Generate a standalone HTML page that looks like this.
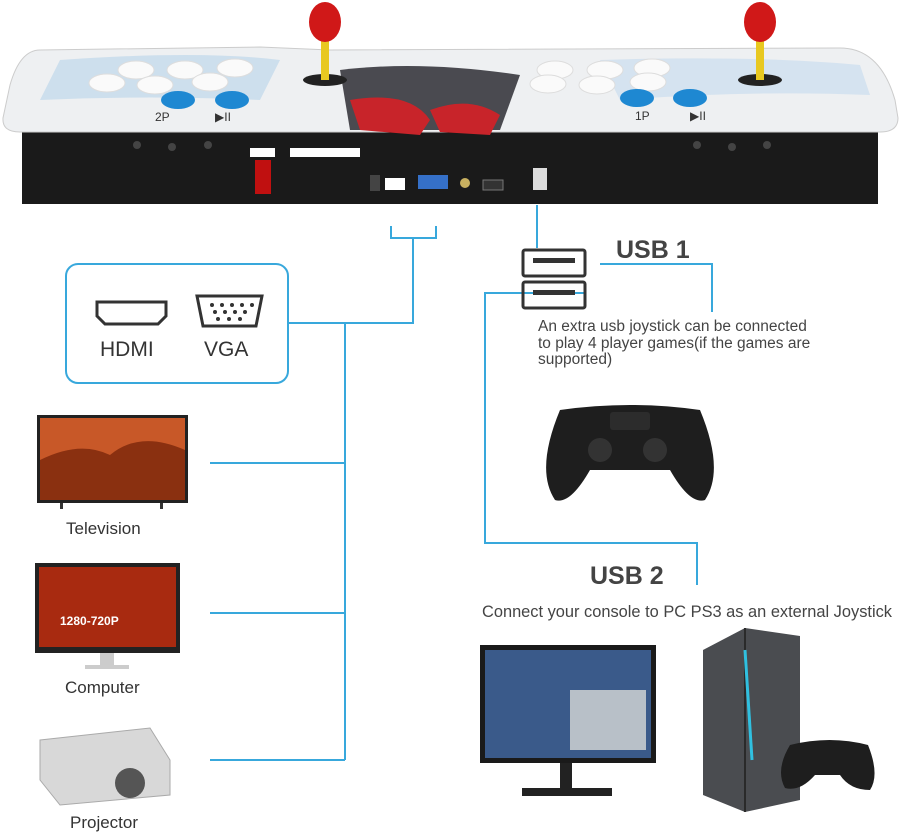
<!DOCTYPE html>
<html><head><meta charset="utf-8"><style>
html,body{margin:0;padding:0;background:#fff;}
svg{display:block}
text{font-family:"Liberation Sans",sans-serif;}
</style></head><body>
<svg width="900" height="834" viewBox="0 0 900 834" xmlns="http://www.w3.org/2000/svg">
<rect x="22" y="118" width="856" height="86" fill="#1a1a1a"/>
<path d="M40 50 L260 47 L330 50 L840 48 Q880 48 895 100 L898 118 Q898 132 880 132 L20 132 Q2 132 3 118 L10 85 Q20 50 40 50Z" fill="#eef0f2" stroke="#ccc"/>
<path d="M60 60 Q200 50 280 60 L260 100 Q150 95 40 100Z" fill="#b8d4ea" opacity="0.6"/>
<path d="M600 60 Q750 55 860 65 L870 95 Q750 90 620 100Z" fill="#c5dbee" opacity="0.6"/>
<path d="M340 70 Q420 60 520 75 L500 130 L350 130Z" fill="#4a4a50"/>
<path d="M350 100 Q410 90 430 120 L420 135 L360 130Z" fill="#c8242a"/>
<path d="M430 110 Q470 95 500 115 L490 135 L440 132Z" fill="#c8242a"/>
<g fill="#fafafa" stroke="#ddd">
<ellipse cx="107" cy="83" rx="18" ry="9"/><ellipse cx="136" cy="70" rx="18" ry="9"/><ellipse cx="185" cy="70" rx="18" ry="9"/><ellipse cx="235" cy="68" rx="18" ry="9"/>
<ellipse cx="155" cy="85" rx="18" ry="9"/><ellipse cx="210" cy="82" rx="18" ry="9"/>
<ellipse cx="555" cy="70" rx="18" ry="9"/><ellipse cx="605" cy="70" rx="18" ry="9"/><ellipse cx="652" cy="68" rx="18" ry="9"/>
<ellipse cx="548" cy="84" rx="18" ry="9"/><ellipse cx="597" cy="85" rx="18" ry="9"/><ellipse cx="648" cy="82" rx="18" ry="9"/>
</g>
<g fill="#1e88d2"><ellipse cx="178" cy="100" rx="17" ry="9"/><ellipse cx="232" cy="100" rx="17" ry="9"/><ellipse cx="637" cy="98" rx="17" ry="9"/><ellipse cx="690" cy="98" rx="17" ry="9"/></g>
<text x="155" y="121" font-size="12" fill="#333">2P</text><text x="215" y="121" font-size="12" fill="#333">▶II</text>
<text x="635" y="120" font-size="12" fill="#333">1P</text><text x="690" y="120" font-size="12" fill="#333">▶II</text>
<ellipse cx="325" cy="80" rx="22" ry="6" fill="#222"/><rect x="321" y="30" width="8" height="50" fill="#e8c820"/><ellipse cx="325" cy="22" rx="16" ry="20" fill="#d01818"/>
<ellipse cx="760" cy="80" rx="22" ry="6" fill="#222"/><rect x="756" y="30" width="8" height="50" fill="#e8c820"/><ellipse cx="760" cy="22" rx="16" ry="20" fill="#d01818"/>
<g fill="#444"><circle cx="137" cy="145" r="4"/><circle cx="172" cy="147" r="4"/><circle cx="208" cy="145" r="4"/><circle cx="697" cy="145" r="4"/><circle cx="732" cy="147" r="4"/><circle cx="767" cy="145" r="4"/></g>
<rect x="255" y="160" width="16" height="34" fill="#c01010"/>
<rect x="250" y="148" width="25" height="9" fill="#fff"/>
<rect x="290" y="148" width="70" height="9" fill="#fff"/>
<rect x="385" y="178" width="20" height="12" fill="#fff"/><rect x="418" y="175" width="30" height="14" fill="#3570c8"/>
<circle cx="465" cy="183" r="5" fill="#c8b060"/><rect x="483" y="180" width="20" height="10" fill="#333" stroke="#777"/>
<rect x="533" y="168" width="14" height="22" fill="#ddd"/><rect x="370" y="175" width="10" height="16" fill="#444"/>
<g stroke="#38a8dc" stroke-width="2" fill="none">
<path d="M391 226 V238 H436 V226"/><path d="M413 238 V323 H288"/>
<path d="M345 323 V760 M210 463 H345 M210 613 H345 M210 760 H345"/>
<rect x="66" y="264" width="222" height="119" rx="12"/>
<path d="M537 205 V248"/>
<path d="M600 264 H712 V312"/>
<path d="M585 293 H485 V543 H697 V585"/>
</g>
<path d="M97 302 H166 V316 L158 324 H105 L97 316Z" fill="none" stroke="#333" stroke-width="3"/>
<path d="M197 296 H262 L256 326 H203Z" fill="none" stroke="#333" stroke-width="3"/>
<g fill="#333"><circle cx="212" cy="305" r="2"/><circle cx="222" cy="305" r="2"/><circle cx="232" cy="305" r="2"/><circle cx="242" cy="305" r="2"/><circle cx="252" cy="305" r="2"/><circle cx="215" cy="312" r="2"/><circle cx="225" cy="312" r="2"/><circle cx="235" cy="312" r="2"/><circle cx="245" cy="312" r="2"/><circle cx="218" cy="319" r="2"/><circle cx="229" cy="319" r="2"/><circle cx="240" cy="319" r="2"/></g>
<text x="100" y="356" font-size="21" fill="#333">HDMI</text><text x="204" y="356" font-size="21" fill="#333">VGA</text>
<rect x="523" y="250" width="62" height="26" rx="2" fill="none" stroke="#333" stroke-width="3"/><rect x="533" y="258" width="42" height="5" fill="#333"/>
<rect x="523" y="282" width="62" height="26" rx="2" fill="none" stroke="#333" stroke-width="3"/><rect x="533" y="290" width="42" height="5" fill="#333"/>
<text x="616" y="258" font-size="25" font-weight="bold" fill="#444">USB 1</text>
<text x="538" y="331" font-size="15.5" fill="#444">An extra usb joystick can be connected</text>
<text x="538" y="348" font-size="15.5" fill="#444">to play 4 player games(if the games are</text>
<text x="538" y="364" font-size="15.5" fill="#444">supported)</text>
<text x="590" y="584" font-size="25" font-weight="bold" fill="#444">USB 2</text>
<text x="482" y="617" font-size="16.4" fill="#444">Connect your console to PC PS3 as an external Joystick</text>
<rect x="37" y="415" width="151" height="88" fill="#222"/><rect x="40" y="418" width="145" height="82" fill="#c85828"/>
<path d="M40 460 Q80 440 110 455 Q140 430 185 450 V500 H40Z" fill="#8a3010"/>
<rect x="60" y="503" width="3" height="6" fill="#333"/><rect x="160" y="503" width="3" height="6" fill="#333"/>
<text x="66" y="534" font-size="17" fill="#333">Television</text>
<rect x="35" y="563" width="145" height="90" fill="#222"/><rect x="39" y="567" width="137" height="80" fill="#a82a10"/>
<text x="60" y="625" font-size="12" font-weight="bold" fill="#fff">1280-720P</text>
<rect x="100" y="653" width="14" height="12" fill="#ccc"/><rect x="85" y="665" width="44" height="4" fill="#ccc"/>
<text x="65" y="693" font-size="17" fill="#333">Computer</text>
<path d="M40 740 L150 728 L170 760 L170 795 L60 805 L40 780Z" fill="#d8d8d8" stroke="#aaa"/>
<circle cx="130" cy="783" r="15" fill="#555"/>
<text x="70" y="828" font-size="17" fill="#333">Projector</text>
<path d="M560 410 Q630 400 700 410 Q725 470 705 500 Q690 505 670 470 H590 Q570 505 555 500 Q535 470 560 410Z" fill="#1e1e1e"/>
<circle cx="600" cy="450" r="12" fill="#333"/><circle cx="655" cy="450" r="12" fill="#333"/>
<rect x="610" y="412" width="40" height="18" rx="3" fill="#2c2c2c"/>
<rect x="480" y="645" width="176" height="118" fill="#1a1a1a"/><rect x="485" y="650" width="166" height="108" fill="#3a5a8a"/>
<rect x="570" y="690" width="76" height="60" fill="#b8c0c8"/>
<rect x="560" y="763" width="12" height="25" fill="#222"/><rect x="522" y="788" width="90" height="8" fill="#222"/>
<path d="M703 650 L745 628 L800 636 L800 800 L745 812 L703 795Z" fill="#4a4c50"/>
<path d="M745 628 L745 812" stroke="#2a2a2a" stroke-width="2"/>
<path d="M745 650 L752 760" stroke="#30c0e0" stroke-width="3"/>
<path d="M790 745 Q830 735 868 745 Q880 775 870 790 Q850 790 840 775 H815 Q800 792 785 788 Q775 770 790 745Z" fill="#1e1e1e"/>
</svg>
</body></html>
